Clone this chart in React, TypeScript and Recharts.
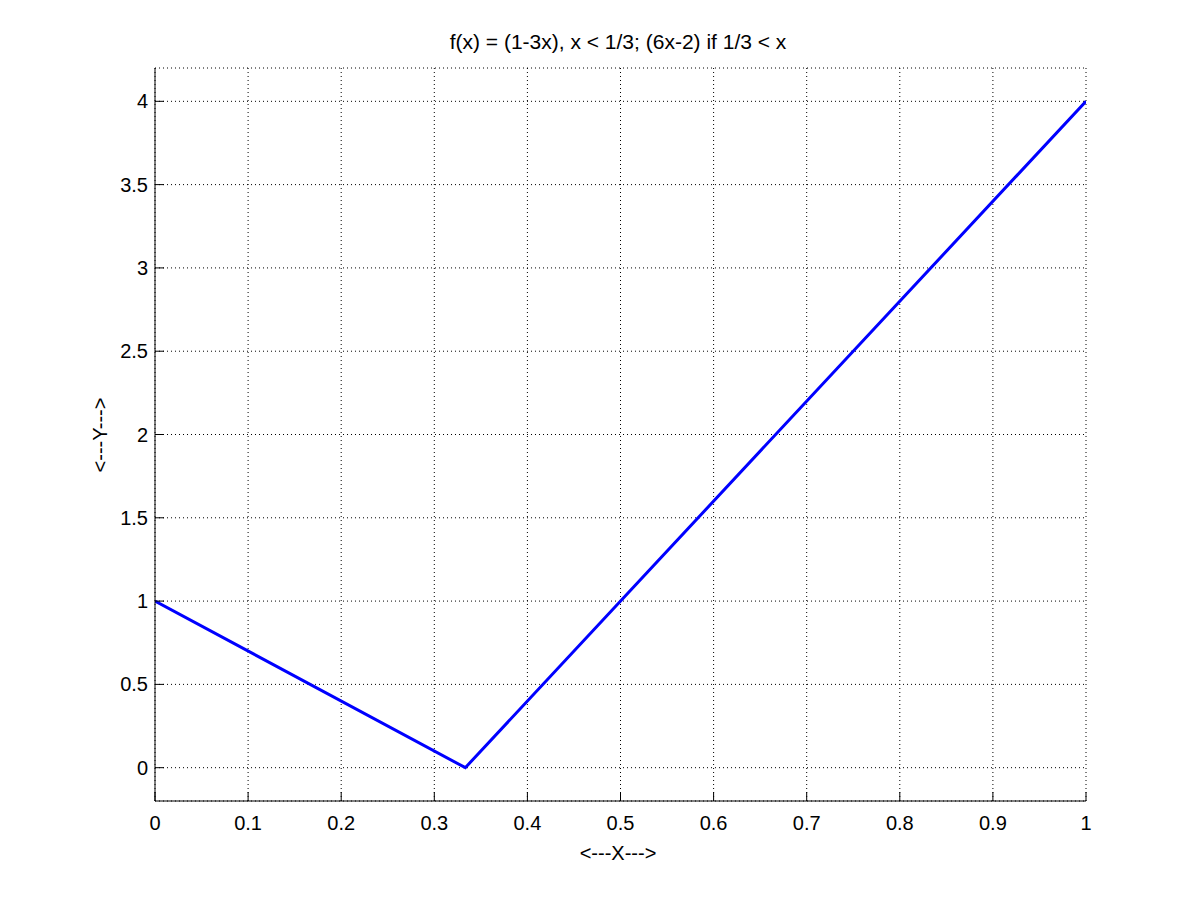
import React from "react";
import { LineChart, Line, XAxis, YAxis, CartesianGrid } from "recharts";

const xValues = [0, 1 / 3, 1];
const yValues = [1, 0, 4];
const xTicks = [0, 0.1, 0.2, 0.3, 0.4, 0.5, 0.6, 0.7, 0.8, 0.9, 1];
const yTicks = [0, 0.5, 1, 1.5, 2, 2.5, 3, 3.5, 4];
const xDomain = [0, 1];
const yDomain = [-0.2, 4.2];
const titleText = "f(x) = (1-3x), x < 1/3; (6x-2) if 1/3 < x";
const xLabelText = "<---X--->";
const yLabelText = "<---Y--->";

const data = xValues.map((x, i) => ({ x, y: yValues[i] }));

const FONT = "'Liberation Sans', Arial, Helvetica, sans-serif";
const FS = 20;
const TL = 9;

const fmt = (v: number) => String(Number(v.toFixed(2)));

const BottomTick = (props: any) => {
  const { x, y, payload } = props;
  return (
    <g>
      <line x1={x} y1={y} x2={x} y2={y - TL} stroke="#000" strokeWidth={1} />
      <text x={x} y={y + 29} textAnchor="middle" fontSize={FS} fontFamily={FONT} fill="#000">
        {fmt(payload.value)}
      </text>
    </g>
  );
};

const LeftTick = (props: any) => {
  const { x, y, payload } = props;
  return (
    <g>
      <line x1={x} y1={y} x2={x + TL} y2={y} stroke="#000" strokeWidth={1} />
      <text x={x - 7} y={y + 7} textAnchor="end" fontSize={FS} fontFamily={FONT} fill="#000">
        {fmt(payload.value)}
      </text>
    </g>
  );
};

const TopTick = (props: any) => {
  const { x, y } = props;
  return <line x1={x} y1={y} x2={x} y2={y + TL} stroke="#000" strokeWidth={1} />;
};

const RightTick = (props: any) => {
  const { x, y } = props;
  return <line x1={x} y1={y} x2={x - TL} y2={y} stroke="#000" strokeWidth={1} />;
};

export default function App() {
  return (
    <div style={{ position: "absolute", left: 0, top: 0, width: 1200, height: 900, background: "#fff" }}>
      <LineChart
        width={1200}
        height={900}
        data={data}
        margin={{ top: 68, right: 114, bottom: 59, left: 95 }}
      >
        <CartesianGrid stroke="#000" strokeDasharray="1 3" strokeWidth={1} />
        <XAxis
          dataKey="x"
          type="number"
          domain={xDomain}
          ticks={xTicks}
          interval={0}
          height={40}
          tickSize={0}
          tickMargin={0}
          tickLine={false}
          axisLine={{ stroke: "#000" }}
          tick={<BottomTick />}
          allowDataOverflow
        />
        <XAxis
          xAxisId="top"
          orientation="top"
          dataKey="x"
          type="number"
          domain={xDomain}
          ticks={xTicks}
          interval={0}
          height={0}
          tickSize={0}
          tickMargin={0}
          tickLine={false}
          axisLine={{ stroke: "#000" }}
          tick={<TopTick />}
          allowDataOverflow
        />
        <YAxis
          type="number"
          domain={yDomain}
          ticks={yTicks}
          interval={0}
          width={60}
          tickSize={0}
          tickMargin={0}
          tickLine={false}
          axisLine={{ stroke: "#000" }}
          tick={<LeftTick />}
          allowDataOverflow
        />
        <YAxis
          yAxisId="right"
          orientation="right"
          type="number"
          domain={yDomain}
          ticks={yTicks}
          interval={0}
          width={0}
          tickSize={0}
          tickMargin={0}
          tickLine={false}
          axisLine={{ stroke: "#000" }}
          tick={<RightTick />}
          allowDataOverflow
        />
        <Line
          type="linear"
          dataKey="y"
          stroke="#0000ff"
          strokeWidth={3}
          dot={false}
          activeDot={false}
          isAnimationActive={false}
        />
      </LineChart>
      <svg
        width={1200}
        height={900}
        style={{ position: "absolute", left: 0, top: 0, pointerEvents: "none" }}
      >
        <text x={618} y={49} textAnchor="middle" fontSize={21} fontFamily={FONT} fill="#000">
          {titleText}
        </text>
        <text x={618} y={860} textAnchor="middle" fontSize={FS} fontFamily={FONT} fill="#000">
          {xLabelText}
        </text>
        <text
          x={107}
          y={435}
          textAnchor="middle"
          fontSize={FS}
          fontFamily={FONT}
          fill="#000"
          transform="rotate(-90 107 435)"
        >
          {yLabelText}
        </text>
      </svg>
    </div>
  );
}
